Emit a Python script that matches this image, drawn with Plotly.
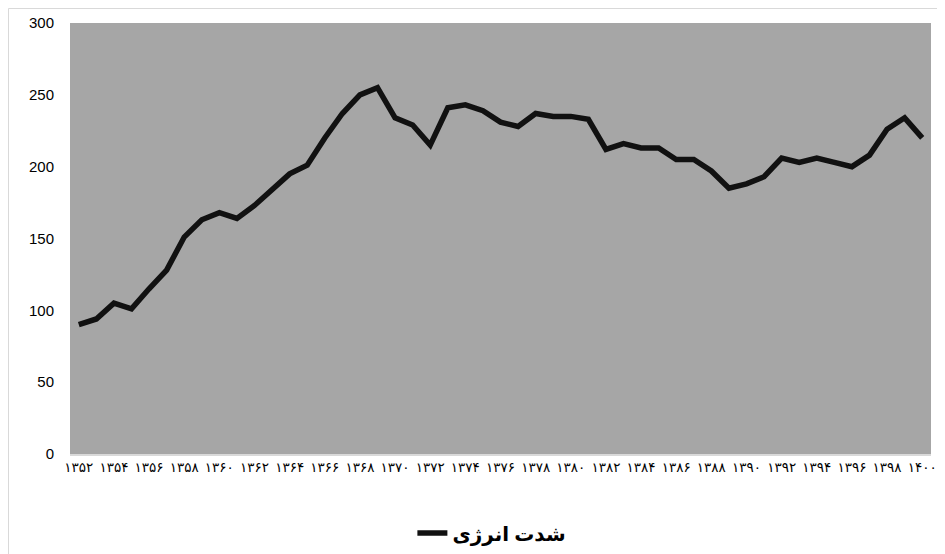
import plotly.graph_objects as go

years = list(range(1352, 1401))
values = [90, 94, 105, 101, 115, 128, 151, 163, 168, 164,
          173, 184, 195, 201, 220, 237, 250, 255, 234, 229,
          215, 241, 243, 239, 231, 228, 237, 235, 235, 233,
          212, 216, 213, 213, 205, 205, 197, 185, 188, 193,
          206, 203, 206, 203, 200, 208, 226, 234, 220]
series_name = "شدت انرژی"

fa_digits = str.maketrans("0123456789", "۰۱۲۳۴۵۶۷۸۹")
tick_years = [y for y in years if (y - 1352) % 2 == 0]
tick_text = [str(y).translate(fa_digits) for y in tick_years]

# page body has an 8px default margin; size the figure to fit the window
W, H = 937, 546
L, R, T, B = 62, 14, 15, 100
pw, ph = W - L - R, H - T - B

fig = go.Figure()
fig.add_trace(go.Scatter(
    x=years, y=values, mode="lines", name="<b>" + series_name + "</b>",
    line=dict(color="#111111", width=5.5),
))

fig.update_layout(
    width=W, height=H,
    margin=dict(l=L, r=R, t=T, b=B, autoexpand=False),
    paper_bgcolor="white",
    plot_bgcolor="#a6a6a6",
    showlegend=True,
    legend=dict(
        orientation="h", x=0.49, xanchor="center",
        y=-79 / ph, yanchor="middle",
        font=dict(family="Noto Sans, DejaVu Sans", size=20, color="#000000"),
        bgcolor="rgba(0,0,0,0)",
    ),
    xaxis=dict(
        type="linear", range=[1351.5, 1400.5],
        tickmode="array", tickvals=tick_years, ticktext=tick_text,
        tickangle=0,
        showgrid=False, zeroline=False,
        showline=True, linecolor="#d9d9d9", linewidth=2,
        ticks="", tickfont=dict(family="DejaVu Sans", size=13.5, color="#000"),
    ),
    yaxis=dict(
        range=[0, 300], dtick=50, showgrid=False, zeroline=False,
        showline=False, ticks="outside", ticklen=12, tickcolor="rgba(0,0,0,0)",
        tickfont=dict(family="Liberation Sans, Arial", size=15, color="#000"),
    ),
    font=dict(family="Liberation Sans, Arial"),
    shapes=[dict(
        type="rect", xref="paper", yref="paper",
        x0=(0.5 - L) / pw, x1=(W + 20 - L) / pw,
        y0=-(B + 20) / ph, y1=1 + (T - 0.5) / ph,
        line=dict(color="#d9d9d9", width=1), fillcolor="rgba(0,0,0,0)",
        layer="below",
    )],
)

fig.write_html("out.html")
